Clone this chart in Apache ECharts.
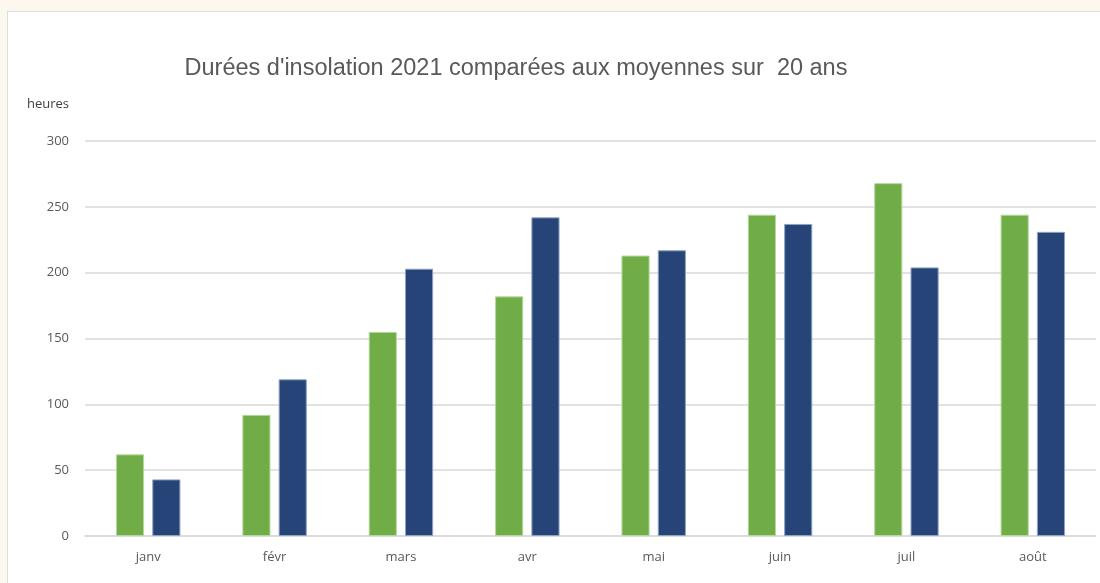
<!DOCTYPE html>
<html>
<head>
<meta charset="utf-8">
<script src="https://cdn.jsdelivr.net/npm/echarts@6/dist/echarts.min.js"></script>
<style>
  html, body { margin: 0; padding: 0; background: #fdf8ee; }
  #box { position: absolute; left: 7px; top: 11px; width: 1093px; height: 572px;
         background: #fff; border-left: 1px solid #dcdcdc; border-top: 1px solid #dcdcdc; }
  #chart { width: 1093px; height: 572px; }
</style>
</head>
<body>
<div id="box"><div id="chart"></div></div>
<script>
var mois = ['janv', 'févr', 'mars', 'avr', 'mai', 'juin', 'juil', 'août'];
var heures2021 = [62, 92, 155, 182, 213, 244, 268, 244];
var moyenne20ans = [43, 119, 203, 242, 217, 237, 204, 231];

var chart = echarts.init(document.getElementById('chart'));
var option = {
    animation: false,
    title: {
        text: "Durées d'insolation 2021 comparées aux moyennes sur  20 ans",
        left: 503,
        top: 40,
        textAlign: 'center',
        textStyle: { fontFamily: 'Liberation Sans, sans-serif', fontSize: 23.5, fontWeight: 'normal', color: '#595959' }
    },
    graphic: [{
        type: 'text', left: 19, top: 86,
        style: { text: 'heures', fontFamily: 'Open Sans, sans-serif', fontSize: 13, fill: '#404040' }
    }],
    grid: { left: 77, right: 5, top: 129, bottom: 48 },
    xAxis: {
        type: 'category',
        data: mois,
        axisTick: { show: false },
        axisLine: { lineStyle: { color: '#d9d9d9', width: 1.5 } },
        axisLabel: { color: '#595959', fontSize: 13, margin: 15, fontFamily: 'Open Sans, sans-serif' }
    },
    yAxis: {
        type: 'value',
        min: 0, max: 300, interval: 50,
        axisLabel: { color: '#595959', fontSize: 13, margin: 16, fontFamily: 'Open Sans, sans-serif' },
        splitLine: { lineStyle: { color: '#d9d9d9', width: 1.5 } }
    },
    series: [
        {
            name: '2021', type: 'bar', data: heures2021,
            barGap: '29%', barCategoryGap: '49%',
            itemStyle: { color: '#70ad47', borderColor: '#b5d89e', borderWidth: 1 }
        },
        {
            name: 'moyenne 20 ans', type: 'bar', data: moyenne20ans,
            itemStyle: { color: '#264478', borderColor: '#8ea3c4', borderWidth: 1 }
        }
    ]
};
chart.setOption(option);
</script>
</body>
</html>
